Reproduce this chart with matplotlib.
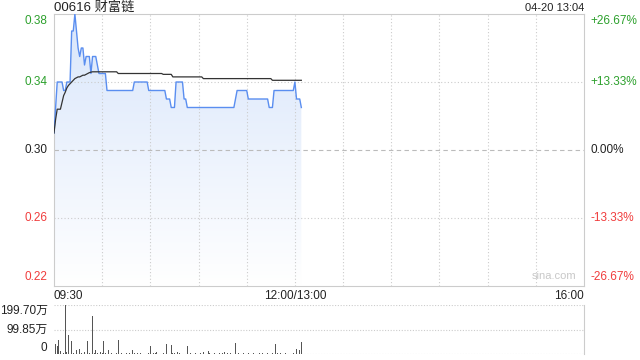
import matplotlib
matplotlib.use("Agg")
import matplotlib.pyplot as plt
import numpy as np
from matplotlib.colors import LinearSegmentedColormap

plt.rcParams['font.family'] = ['Liberation Sans', 'Noto Sans CJK SC', 'DejaVu Sans']

title = "00616 财富链"
stamp = "04-20 13:04"
prev_close = 0.30

# one value per trading minute from 09:30 (index 0) to 13:04 (index 154)
price = [
    0.31, 0.325, 0.34, 0.34, 0.34, 0.34, 0.335, 0.335, 0.34, 0.34,
    0.34, 0.37, 0.37, 0.38, 0.37, 0.36, 0.355, 0.36, 0.36, 0.35,
    0.355, 0.355, 0.355, 0.345, 0.355, 0.355, 0.355, 0.35, 0.345, 0.345,
    0.345, 0.345, 0.345, 0.335, 0.335, 0.335, 0.335, 0.335, 0.335, 0.335,
    0.335, 0.335, 0.335, 0.335, 0.335, 0.335, 0.335, 0.335, 0.335, 0.335,
    0.34, 0.34, 0.34, 0.34, 0.34, 0.34, 0.34, 0.34, 0.34, 0.335,
    0.335, 0.335, 0.335, 0.335, 0.335, 0.335, 0.335, 0.335, 0.335, 0.335,
    0.33, 0.33, 0.33, 0.325, 0.325, 0.325, 0.34, 0.34, 0.34, 0.34,
    0.34, 0.33, 0.33, 0.325, 0.325, 0.325, 0.325, 0.325, 0.325, 0.325,
    0.325, 0.325, 0.325, 0.325, 0.325, 0.325, 0.325, 0.325, 0.325, 0.325,
    0.325, 0.325, 0.325, 0.325, 0.325, 0.325, 0.325, 0.325, 0.325, 0.325,
    0.325, 0.325, 0.325, 0.33, 0.335, 0.335, 0.335, 0.335, 0.335, 0.335,
    0.335, 0.33, 0.33, 0.33, 0.33, 0.33, 0.33, 0.33, 0.33, 0.33,
    0.33, 0.33, 0.33, 0.33, 0.325, 0.325, 0.325, 0.335, 0.335, 0.335,
    0.335, 0.335, 0.335, 0.335, 0.335, 0.335, 0.335, 0.335, 0.335, 0.335,
    0.34, 0.33, 0.33, 0.33, 0.325,
]

avg_price = [
    0.31, 0.318, 0.324, 0.324, 0.324, 0.328, 0.332, 0.334, 0.3365, 0.338,
    0.339, 0.340, 0.341, 0.342, 0.3425, 0.343, 0.343, 0.3435, 0.344, 0.344,
    0.3445, 0.345, 0.3455, 0.3458, 0.346, 0.346, 0.346, 0.346, 0.346, 0.346,
    0.346, 0.346, 0.346, 0.346, 0.346, 0.346, 0.346, 0.346, 0.346, 0.346,
    0.345, 0.345, 0.345, 0.345, 0.345, 0.345, 0.345, 0.345, 0.345, 0.345,
    0.345, 0.345, 0.345, 0.345, 0.345, 0.345, 0.345, 0.345, 0.345, 0.345,
    0.345, 0.345, 0.345, 0.345, 0.345, 0.345, 0.345, 0.345, 0.3445, 0.3445,
    0.3445, 0.3445, 0.3445, 0.3445, 0.343, 0.343, 0.343, 0.343, 0.343, 0.343,
    0.343, 0.343, 0.343, 0.343, 0.343, 0.343, 0.343, 0.343, 0.343, 0.343,
    0.343, 0.343, 0.343, 0.342, 0.342, 0.342, 0.342, 0.342, 0.342, 0.342,
    0.342, 0.342, 0.342, 0.342, 0.342, 0.342, 0.342, 0.342, 0.342, 0.342,
    0.342, 0.342, 0.342, 0.342, 0.342, 0.342, 0.342, 0.342, 0.342, 0.342,
    0.342, 0.342, 0.342, 0.342, 0.342, 0.342, 0.342, 0.342, 0.342, 0.342,
    0.342, 0.342, 0.342, 0.342, 0.342, 0.342, 0.341, 0.341, 0.341, 0.341,
    0.341, 0.341, 0.341, 0.341, 0.341, 0.341, 0.341, 0.341, 0.341, 0.341,
    0.341, 0.341, 0.341, 0.341, 0.341,
]

# volume in 万 shares per minute
volume = [
    8, 41, 31, 58, 12, 4, 3, 199.7, 10, 79,
    156, 52, 6, 58, 18, 12, 20, 6, 3, 10,
    4, 53, 6, 3, 154, 4, 18, 6, 12, 10,
    3, 53, 4, 3, 18, 2, 3, 2, 4, 3,
    56, 2, 3, 10, 2, 3, 2, 4, 2, 18,
    3, 2, 3, 2, 4, 2, 3, 2, 2, 3,
    33, 2, 3, 4, 8, 2, 3, 2, 3, 2,
    40, 3, 2, 36, 4, 3, 2, 8, 3, 2,
    2, 3, 2, 33, 4, 3, 10, 2, 3, 2,
    2, 3, 2, 8, 3, 2, 14, 3, 2, 2,
    3, 2, 2, 3, 2, 4, 8, 2, 3, 2,
    3, 2, 2, 45, 2, 3, 2, 2, 3, 2,
    2, 3, 2, 2, 3, 2, 2, 3, 4, 2,
    3, 2, 2, 3, 2, 2, 3, 4, 41, 3,
    2, 3, 2, 2, 3, 2, 2, 3, 2, 4,
    3, 22, 6, 16, 48,
]

price_ticks = [0.22, 0.26, 0.30, 0.34, 0.38]
pct_labels = ["-26.67%", "-13.33%", "0.00%", "+13.33%", "+26.67%"]
vol_ticks = [0, 99.85, 199.7]
vol_labels = ["0", "99.85万", "199.70万"]

green = "#2ca02c"
red = "#f03c3c"
grid_c = "#cccccc"
line_blue = "#5a8ef0"
text_c = "#222222"

minutes = np.arange(len(price))

fig = plt.figure(figsize=(6.4, 3.6), dpi=100)
ax = fig.add_axes([54/640, 1-286/360, 530/640, 272/360])
axv = fig.add_axes([54/640, 1-354/360, 530/640, 49/360])

ax.set_xlim(0, 330)
ax.set_ylim(0.22, 0.38)

# gradient fill under price line
cmap = LinearSegmentedColormap.from_list("fill", ["#ffffff", "#d9e6fb"])
grad = np.linspace(0, 1, 256).reshape(-1, 1)
img = ax.imshow(grad, extent=[0, minutes[-1], 0.22, 0.38], origin='lower',
                aspect='auto', cmap=cmap, zorder=1)
poly = ax.fill_between(minutes, price, 0.22, color='none', lw=0)
img.set_clip_path(poly.get_paths()[0], transform=ax.transData)

for t in range(30, 330, 30):
    ax.axvline(t, color=grid_c, lw=0.8, ls=(0, (1, 2)), zorder=2)
for p in [0.26, 0.34]:
    ax.axhline(p, color=grid_c, lw=0.8, ls=(0, (1, 2)), zorder=2)
ax.axhline(prev_close, color="#bbbbbb", lw=0.8, ls=(0, (4, 3)), zorder=2)

ax.plot(minutes, price, color=line_blue, lw=1.0, zorder=3)
ax.plot(minutes, avg_price, color="#333333", lw=0.9, zorder=4)

for s in ax.spines.values():
    s.set_color("#cccccc")
ax.set_xticks([])
ax.set_yticks([])

def pcolor(p):
    if p > prev_close + 1e-9:
        return green
    if p < prev_close - 1e-9:
        return red
    return text_c

for p, lab in zip(price_ticks, pct_labels):
    dy = 0
    if p == price_ticks[0]:
        dy = 0.005
    elif p == price_ticks[-1]:
        dy = -0.004
    ax.text(-4, p + dy, "%.2f" % p, ha='right', va='center', fontsize=8.5, color=pcolor(p))
    ax.text(334, p + dy, lab, ha='left', va='center', fontsize=8.5, color=pcolor(p))

fig.text(54/640, 1-8/360, title, ha='left', va='center', fontsize=9.5, color=text_c)
fig.text(584/640, 1-8/360, stamp, ha='right', va='center', fontsize=8, color=text_c)
ax.text(0.985, 0.02, "sina.com", transform=ax.transAxes, ha='right', va='bottom',
        fontsize=8, color="#c8c8c8")

ax.text(0, -0.015, "09:30", transform=ax.transAxes, ha='left', va='top', fontsize=8.5, color=text_c)
ax.text(150/330, -0.015, "12:00/13:00", transform=ax.transAxes, ha='center', va='top', fontsize=8.5, color=text_c)
ax.text(1, -0.015, "16:00", transform=ax.transAxes, ha='right', va='top', fontsize=8.5, color=text_c)

# volume panel
axv.set_xlim(0, 330)
axv.set_ylim(0, 199.7)
axv.bar(minutes, volume, width=0.45, color="#555555", zorder=3)
for v in vol_ticks:
    axv.axhline(v, color=grid_c, lw=0.8, ls=(0, (1, 1.5)), zorder=1)
for side in ['top', 'left', 'bottom']:
    axv.spines[side].set_visible(False)
axv.spines['right'].set_color("#cccccc")
axv.set_xticks([])
axv.set_yticks([])
for v, lab in zip(vol_ticks, vol_labels):
    dy = 0
    if v == vol_ticks[0]:
        dy = 25
    elif v == vol_ticks[-1]:
        dy = -25
    axv.text(-4, v + dy, lab, ha='right', va='center', fontsize=8.5, color=text_c)

fig.savefig("out.png", dpi=100)
